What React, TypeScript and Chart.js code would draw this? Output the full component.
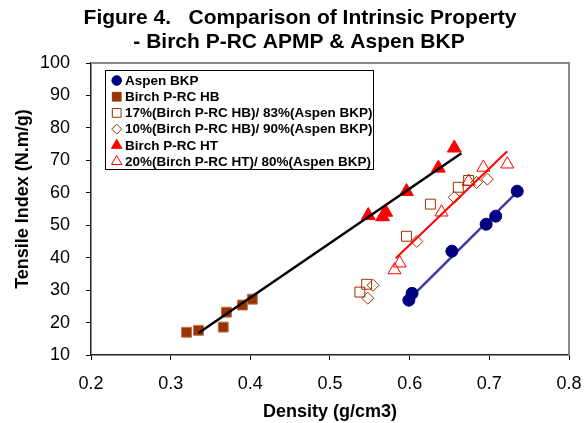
import React, { useEffect, useRef } from "react";
import { Chart, registerables } from "chart.js";
import { drawPoint } from "chart.js/helpers";

Chart.register(...registerables);

// ---- data ----
const titleLines = ["Figure 4.   Comparison of Intrinsic Property", "- Birch P-RC APMP & Aspen BKP"];
const xTitle = "Density (g/cm3)";
const yTitle = "Tensile Index (N.m/g)";

const aspenX = [0.599, 0.603, 0.653, 0.696, 0.708, 0.735];
const aspenY = [26.9, 29.0, 42.0, 50.3, 52.8, 60.5];

const hbX = [0.32, 0.335, 0.366, 0.37, 0.39, 0.4025];
const hbY = [17.0, 17.6, 18.6, 23.2, 25.4, 27.2];

const blend17X = [0.5375, 0.546, 0.596, 0.626, 0.661, 0.674];
const blend17Y = [29.4, 31.8, 46.6, 56.5, 61.7, 63.8];

const blend10X = [0.5475, 0.554, 0.609, 0.656, 0.684, 0.6975];
const blend10Y = [27.5, 31.5, 45.0, 58.6, 63.2, 64.2];

const htX = [0.548, 0.566, 0.57, 0.596, 0.636, 0.656];
const htY = [53.0, 52.6, 54.0, 60.4, 67.6, 73.8];

const blend20X = [0.581, 0.5875, 0.64, 0.674, 0.6925, 0.7225];
const blend20Y = [36.2, 38.3, 54.0, 63.5, 67.8, 68.8];

const trendBlackX = [0.335, 0.665];
const trendBlackY = [16.8, 72.2];
const trendRedX = [0.5825, 0.7225];
const trendRedY = [39.8, 72.8];
const trendBlueX = [0.6025, 0.736];
const trendBlueY = [28.0, 60.5];

const legendLabels = [
  "Aspen BKP",
  "Birch P-RC HB",
  "17%(Birch P-RC HB)/ 83%(Aspen BKP)",
  "10%(Birch P-RC HB)/ 90%(Aspen BKP)",
  "Birch P-RC HT",
  "20%(Birch P-RC HT)/ 80%(Aspen BKP)",
];

const NAVY = "#000080";
const BROWN = "#993300";
const RED = "#ff0000";
const FONT = "Arial, 'Liberation Sans', sans-serif";

const pts = (xs: number[], ys: number[]) => xs.map((x, i) => ({ x, y: ys[i] }));

export default function App() {
  const ref = useRef<HTMLCanvasElement>(null);
  useEffect(() => {
    document.body.style.margin = "0";
    const markers = [
      { pointStyle: "circle", radius: 4.8, fill: NAVY, stroke: NAVY },
      { pointStyle: "rect", radius: 6.2, fill: BROWN, stroke: BROWN },
      { pointStyle: "rect", radius: 6.2, fill: "rgba(0,0,0,0)", stroke: BROWN },
      { pointStyle: "rectRot", radius: 5, fill: "rgba(0,0,0,0)", stroke: BROWN },
      { pointStyle: "triangle", radius: 6, fill: RED, stroke: RED },
      { pointStyle: "triangle", radius: 6, fill: "rgba(0,0,0,0)", stroke: RED },
    ];
    const decor = {
      id: "decor",
      beforeDatasetsDraw(chart: any) {
        const { ctx, chartArea: a } = chart;
        ctx.save();
        ctx.strokeStyle = "#888888";
        ctx.lineWidth = 2;
        ctx.beginPath();
        ctx.moveTo(a.left, a.top);
        ctx.lineTo(a.right, a.top);
        ctx.lineTo(a.right, a.bottom);
        ctx.stroke();
        ctx.restore();
      },
      afterDraw(chart: any) {
        const { ctx } = chart;
        ctx.save();
        // title
        ctx.fillStyle = "#000";
        ctx.font = `bold 21px ${FONT}`;
        ctx.textAlign = "center";
        ctx.textBaseline = "middle";
        ctx.fillText(titleLines[0], 300, 18);
        ctx.fillText(titleLines[1], 299, 42);
        // y axis title
        ctx.save();
        ctx.translate(23.5, 199);
        ctx.rotate(-Math.PI / 2);
        ctx.font = `bold 18px ${FONT}`;
        ctx.fillText(yTitle, 0, 0);
        ctx.restore();
        // legend box
        ctx.fillStyle = "#fff";
        ctx.fillRect(105, 70, 268, 99);
        ctx.strokeStyle = "#000";
        ctx.lineWidth = 1;
        ctx.strokeRect(105.5, 70.5, 268, 99);
        ctx.font = `bold 13.5px ${FONT}`;
        ctx.textAlign = "left";
        legendLabels.forEach((t, i) => {
          const y = 80.5 + i * 16.2;
          const m = markers[i];
          ctx.fillStyle = m.fill;
          ctx.strokeStyle = m.stroke;
          ctx.lineWidth = 1;
          drawPoint(ctx, { pointStyle: m.pointStyle as any, rotation: 0, radius: m.radius, borderWidth: 1 } as any, 116.7, y);
          ctx.fillStyle = "#000";
          ctx.fillText(t, 125, y + 0.5);
        });
        ctx.restore();
      },
    };

    const chart = new Chart(ref.current!, {
      type: "scatter",
      data: {
        datasets: [
          { label: "trendBlack", data: pts(trendBlackX, trendBlackY), showLine: true, borderColor: "#000", borderWidth: 2.5, pointRadius: 0, order: 0 },
          { label: "trendRed", data: pts(trendRedX, trendRedY), showLine: true, borderColor: RED, borderWidth: 2, pointRadius: 0, order: 0 },
          { label: "trendBlue", data: pts(trendBlueX, trendBlueY), showLine: true, borderColor: "#3c3ca0", borderWidth: 2.5, pointRadius: 0, order: 3 },
          { label: legendLabels[0], data: pts(aspenX, aspenY), pointStyle: "circle", pointRadius: 6, backgroundColor: NAVY, borderColor: NAVY, borderWidth: 1, order: 1 },
          { label: legendLabels[1], data: pts(hbX, hbY), pointStyle: "rect", pointRadius: 7, backgroundColor: BROWN, borderColor: "#c07050", borderWidth: 1, order: 1 },
          { label: legendLabels[2], data: pts(blend17X, blend17Y), pointStyle: "rect", pointRadius: 7, backgroundColor: "rgba(0,0,0,0)", borderColor: BROWN, borderWidth: 1, order: 1 },
          { label: legendLabels[3], data: pts(blend10X, blend10Y), pointStyle: "rectRot", pointRadius: 6, backgroundColor: "rgba(0,0,0,0)", borderColor: BROWN, borderWidth: 1, order: 1 },
          { label: legendLabels[4], data: pts(htX, htY), pointStyle: "triangle", pointRadius: 8, backgroundColor: RED, borderColor: RED, borderWidth: 1, order: 1 },
          { label: legendLabels[5], data: pts(blend20X, blend20Y), pointStyle: "triangle", pointRadius: 7.5, backgroundColor: "rgba(0,0,0,0)", borderColor: RED, borderWidth: 1, order: 1 },
        ],
      },
      options: {
        animation: false,
        responsive: false,
        layout: { padding: { left: 0, right: 16, top: 63, bottom: 0 } },
        plugins: { legend: { display: false }, title: { display: false }, tooltip: { enabled: false } },
        scales: {
          x: {
            type: "linear",
            min: 0.2,
            max: 0.8,
            afterFit: (s: any) => { s.height = 68; s.paddingLeft = 0; s.paddingRight = 0; },
            ticks: { stepSize: 0.1, color: "#000", font: { family: FONT, size: 18 }, padding: 13, callback: (v: any) => Number(v).toFixed(1) },
            grid: { drawOnChartArea: false, tickLength: 5, color: "#000" },
            border: { color: "#222", width: 1.5 },
            title: { display: true, text: xTitle, color: "#000", font: { family: FONT, size: 18, weight: "bold" }, padding: { top: 0, bottom: 0 } },
          },
          y: {
            type: "linear",
            min: 10,
            max: 100,
            afterFit: (s: any) => { s.width = 91; s.paddingTop = 0; s.paddingBottom = 0; },
            ticks: { stepSize: 10, color: "#000", font: { family: FONT, size: 18 }, padding: 16 },
            grid: { drawOnChartArea: false, tickLength: 5, color: "#000" },
            border: { color: "#222", width: 1.5 },
            title: { display: false, text: yTitle },
          },
        },
      },
      plugins: [decor],
    });
    return () => chart.destroy();
  }, []);
  return (
    <div style={{ width: 585, height: 423 }}>
      <canvas ref={ref} width={585} height={423} />
    </div>
  );
}
